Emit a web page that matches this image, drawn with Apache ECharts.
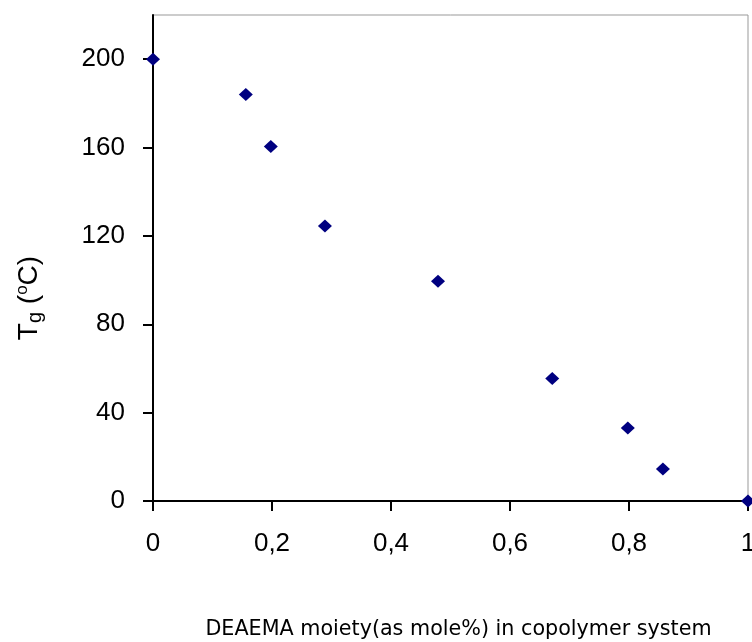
<!DOCTYPE html>
<html><head><meta charset="utf-8">
<script src="https://cdn.jsdelivr.net/npm/echarts@6/dist/echarts.min.js"></script>
<style>html,body{margin:0;padding:0;background:#fff}#c{width:752px;height:642px}</style>
</head><body><div id="c"></div>
<script>
const xValues = [0, 0.156, 0.198, 0.289, 0.479, 0.671, 0.798, 0.857, 1];
const tgValues = [200, 184, 160.5, 124.5, 99.5, 55.5, 33, 14.5, 0];
const xTicks = [0, 0.2, 0.4, 0.6, 0.8, 1];
const yTicks = [0, 40, 80, 120, 160, 200];

const chart = echarts.init(document.getElementById('c'));
const font = '"Liberation Sans", Arial, sans-serif';
const tfont = '"DejaVu Sans", sans-serif';
chart.setOption({
  animation: false,
  grid: {left: 153, right: 4, top: 15, bottom: 141, show: true, borderColor: '#999', borderWidth: 1, outerBoundsMode: 'none', containLabel: false},
  xAxis: {
    type: 'value', min: 0, max: 1, interval: 0.2,
    axisLine: {show: true, onZero: false, lineStyle: {color: '#000', width: 2}},
    axisTick: {show: true, length: 10, lineStyle: {color: '#000', width: 2}},
    splitLine: {show: false},
    axisLabel: {color: '#000', fontSize: 26, fontFamily: font, margin: 30,
      formatter: v => xTicks.includes(Math.round(v*10)/10) ? String(Math.round(v*10)/10).replace('.', ',') : ''},
    name: 'DEAEMA moiety(as mole%) in copolymer system',
    nameLocation: 'middle', nameGap: 118,
    nameTextStyle: {color: '#000', fontSize: 20.7, fontFamily: tfont, padding: [0, 0, 0, 16]}
  },
  yAxis: {
    type: 'value', min: 0, max: 220, interval: 40,
    axisLine: {show: true, lineStyle: {color: '#000', width: 2}},
    axisTick: {show: true, length: 10, lineStyle: {color: '#000', width: 2}},
    splitLine: {show: false},
    axisLabel: {color: '#000', fontSize: 26, fontFamily: font, margin: 28, showMaxLabel: false,
      formatter: v => yTicks.includes(v) ? String(v) : ''},
    name: '{t|T}{s|g}{t| (}{o|o}{t|C)}',
    nameLocation: 'middle', nameGap: 108, nameRotate: 90,
    nameTextStyle: {color: '#000', fontFamily: font, padding: [0, 80, 0, 0],
      rich: {
        t: {fontSize: 28, fontFamily: font, color: '#000'},
        s: {fontSize: 20, fontFamily: font, color: '#000', verticalAlign: 'bottom', padding: [10,0,0,0]},
        o: {fontSize: 17, fontFamily: font, color: '#000', verticalAlign: 'top', padding: [0,0,14,0]}
      }}
  },
  series: [{
    type: 'scatter',
    data: xValues.map((x, i) => [x, tgValues[i]]),
    symbol: 'diamond', symbolSize: [14, 13],
    itemStyle: {color: '#000080', opacity: 1},
    clip: false
  }]
});
</script></body></html>
